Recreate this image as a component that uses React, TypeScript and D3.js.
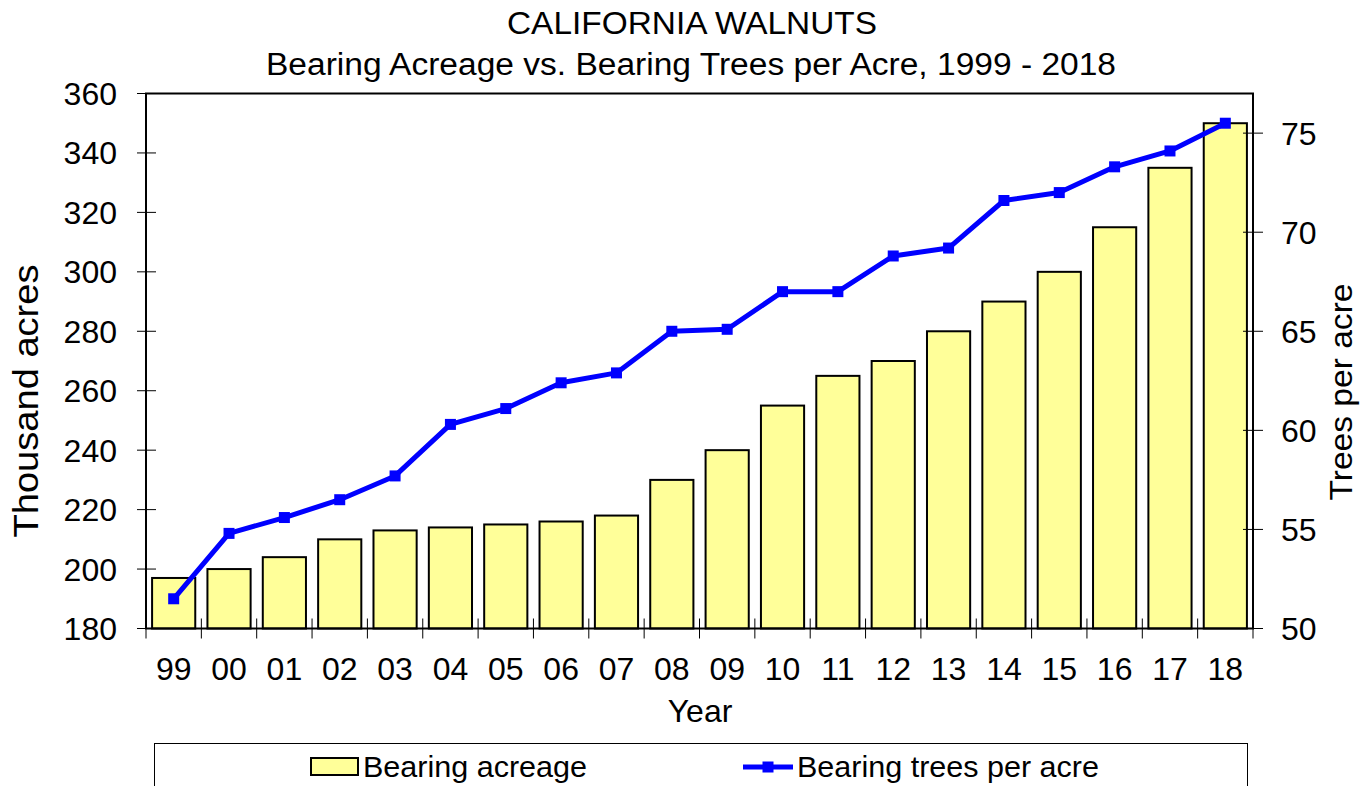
import { useRef, useEffect } from 'react';
import * as d3 from 'd3';

const years = ['99', '00', '01', '02', '03', '04', '05', '06', '07', '08', '09', '10', '11', '12', '13', '14', '15', '16', '17', '18'];
const acreage = [197, 200, 204, 210, 213, 214, 215, 216, 218, 230, 240, 255, 265, 270, 280, 290, 300, 315, 335, 350];
const treesPerAcre = [51.5, 54.8, 55.6, 56.5, 57.7, 60.3, 61.1, 62.4, 62.9, 65.0, 65.1, 67.0, 67.0, 68.8, 69.2, 71.6, 72.0, 73.3, 74.1, 75.5];
const leftTicks = [180, 200, 220, 240, 260, 280, 300, 320, 340, 360];
const rightTicks = [50, 55, 60, 65, 70, 75];

const FONT = '"Liberation Sans", Arial, sans-serif';

export default function App() {
  const svgRef = useRef<SVGSVGElement>(null);

  useEffect(() => {
    if (!svgRef.current) return;
    document.body.style.margin = '0';

    const width = 1369;
    const height = 786;
    const plot = { left: 146, right: 1253, top: 93.5, bottom: 628.5 };

    const svg = d3.select(svgRef.current)
      .attr('width', width)
      .attr('height', height)
      .style('font-family', FONT);

    svg.selectAll('*').remove();

    const x = d3.scaleBand()
      .domain(years)
      .range([plot.left, plot.right])
      .paddingInner(0.22)
      .paddingOuter(0.11);

    const xStep = (plot.right - plot.left) / years.length;

    const yLeft = d3.scaleLinear()
      .domain([180, 360])
      .range([plot.bottom, plot.top]);

    const yRight = d3.scaleLinear()
      .domain([50, 77])
      .range([plot.bottom, plot.top]);

    // titles
    svg.append('text')
      .attr('x', 692).attr('y', 34)
      .attr('text-anchor', 'middle')
      .attr('font-size', 31)
      .attr('textLength', 370).attr('lengthAdjust', 'spacingAndGlyphs')
      .text('CALIFORNIA WALNUTS');
    svg.append('text')
      .attr('x', 691).attr('y', 75)
      .attr('text-anchor', 'middle')
      .attr('font-size', 31)
      .attr('textLength', 850).attr('lengthAdjust', 'spacingAndGlyphs')
      .text('Bearing Acreage vs. Bearing Trees per Acre, 1999 - 2018');

    // bars
    svg.append('g')
      .selectAll('rect')
      .data(years)
      .join('rect')
      .attr('x', d => x(d)!)
      .attr('y', (_d, i) => yLeft(acreage[i]))
      .attr('width', x.bandwidth())
      .attr('height', (_d, i) => plot.bottom - yLeft(acreage[i]))
      .attr('fill', '#FFFF99')
      .attr('stroke', '#000')
      .attr('stroke-width', 2);

    // frame
    svg.append('rect')
      .attr('x', plot.left).attr('y', plot.top)
      .attr('width', plot.right - plot.left)
      .attr('height', plot.bottom - plot.top)
      .attr('fill', 'none')
      .attr('stroke', '#000')
      .attr('stroke-width', 2);

    // left ticks
    const gl = svg.append('g');
    gl.selectAll('line')
      .data(leftTicks)
      .join('line')
      .attr('x1', plot.left - 9).attr('x2', plot.left + 10)
      .attr('y1', d => yLeft(d)).attr('y2', d => yLeft(d))
      .attr('stroke', '#000').attr('stroke-width', 1);
    gl.selectAll('text')
      .data(leftTicks)
      .join('text')
      .attr('x', 117)
      .attr('y', d => yLeft(d) + 11.5)
      .attr('text-anchor', 'end')
      .attr('font-size', 32)
      .text(d => d);

    // right ticks
    const gr = svg.append('g');
    gr.selectAll('line')
      .data(rightTicks)
      .join('line')
      .attr('x1', plot.right - 10).attr('x2', plot.right + 10)
      .attr('y1', d => yRight(d)).attr('y2', d => yRight(d))
      .attr('stroke', '#000').attr('stroke-width', 1);
    gr.selectAll('text')
      .data(rightTicks)
      .join('text')
      .attr('x', 1281)
      .attr('y', d => yRight(d) + 11.5)
      .attr('font-size', 32)
      .text(d => d);

    // bottom ticks at category boundaries
    const bounds = d3.range(years.length + 1).map(i => plot.left + i * xStep);
    svg.append('g')
      .selectAll('line')
      .data(bounds)
      .join('line')
      .attr('x1', d => d).attr('x2', d => d)
      .attr('y1', plot.bottom - 10).attr('y2', plot.bottom + 10)
      .attr('stroke', '#000').attr('stroke-width', 1);

    svg.append('g')
      .selectAll('text')
      .data(years)
      .join('text')
      .attr('x', d => x(d)! + x.bandwidth() / 2)
      .attr('y', 680)
      .attr('text-anchor', 'middle')
      .attr('font-size', 32)
      .text(d => d);

    // axis titles
    svg.append('text')
      .attr('x', 700).attr('y', 722)
      .attr('text-anchor', 'middle')
      .attr('font-size', 32)
      .text('Year');
    svg.append('text')
      .attr('transform', 'translate(38,401) rotate(-90)')
      .attr('text-anchor', 'middle')
      .attr('font-size', 35)
      .attr('textLength', 273).attr('lengthAdjust', 'spacingAndGlyphs')
      .text('Thousand acres');
    svg.append('text')
      .attr('transform', 'translate(1352,392) rotate(-90)')
      .attr('text-anchor', 'middle')
      .attr('font-size', 32)
      .attr('textLength', 217).attr('lengthAdjust', 'spacingAndGlyphs')
      .text('Trees per acre');

    // line series
    const line = d3.line<number>()
      .x((_d, i) => x(years[i])! + x.bandwidth() / 2)
      .y(d => yRight(d));

    svg.append('path')
      .datum(treesPerAcre)
      .attr('fill', 'none')
      .attr('stroke', '#0000FF')
      .attr('stroke-width', 5)
      .attr('stroke-linejoin', 'round')
      .attr('d', line);

    svg.append('g')
      .selectAll('rect')
      .data(treesPerAcre)
      .join('rect')
      .attr('x', (_d, i) => x(years[i])! + x.bandwidth() / 2 - 5.5)
      .attr('y', d => yRight(d) - 5.5)
      .attr('width', 11).attr('height', 11)
      .attr('fill', '#0000FF');

    // legend
    const lg = svg.append('g');
    lg.append('rect')
      .attr('x', 154.5).attr('y', 743.5)
      .attr('width', 1093).attr('height', 80)
      .attr('fill', 'none')
      .attr('stroke', '#000').attr('stroke-width', 1);
    lg.append('rect')
      .attr('x', 311).attr('y', 758)
      .attr('width', 47).attr('height', 17)
      .attr('fill', '#FFFF99')
      .attr('stroke', '#000').attr('stroke-width', 2);
    lg.append('text')
      .attr('x', 363).attr('y', 777)
      .attr('font-size', 29)
      .attr('textLength', 224).attr('lengthAdjust', 'spacingAndGlyphs')
      .text('Bearing acreage');
    lg.append('line')
      .attr('x1', 743).attr('x2', 793)
      .attr('y1', 767).attr('y2', 767)
      .attr('stroke', '#0000FF').attr('stroke-width', 5);
    lg.append('rect')
      .attr('x', 762.5).attr('y', 761.5)
      .attr('width', 11).attr('height', 11)
      .attr('fill', '#0000FF');
    lg.append('text')
      .attr('x', 797).attr('y', 777)
      .attr('font-size', 29)
      .attr('textLength', 302).attr('lengthAdjust', 'spacingAndGlyphs')
      .text('Bearing trees per acre');
  }, []);

  return <svg ref={svgRef} style={{ display: 'block' }}></svg>;
}
